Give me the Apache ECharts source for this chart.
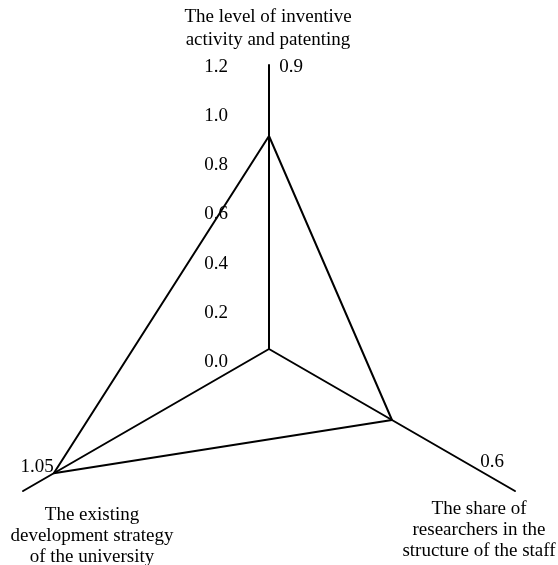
<!DOCTYPE html>
<html>
<head>
<meta charset="utf-8">
<script src="https://cdn.jsdelivr.net/npm/echarts@6/dist/echarts.min.js"></script>
<style>
  html, body { margin: 0; padding: 0; background: #fff; }
  #chart { width: 558px; height: 565px; }
</style>
</head>
<body>
<div id="chart"></div>
<script>
// indicators in ECharts order: top, bottom-left, bottom-right
var indicators = [
  'The level of inventive\nactivity and patenting',
  'The existing\ndevelopment strategy\nof the university',
  'The share of\nresearchers in the\nstructure of the staff'
]
var values = [0.9, 1.05, 0.6]
var axisMax = 1.2
var tickStep = 0.2

var font = "'Liberation Serif', 'Times New Roman', serif"

var myChart = echarts.init(document.getElementById('chart'))

// text positions (name block centre, value label centre) per indicator
var namePos = [[268, 29], [92, 536], [479, 530]]
var valuePos = [[291, 67], [37, 467], [492, 462]]

var graphics = []
indicators.forEach(function (name, i) {
  graphics.push({
    type: 'text',
    x: namePos[i][0],
    y: namePos[i][1],
    style: {
      text: name,
      fontSize: 19,
      fontFamily: font,
      fill: '#000',
      align: 'center',
      verticalAlign: 'middle',
      lineHeight: i === 0 ? 23 : 21
    }
  })
  graphics.push({
    type: 'text',
    x: valuePos[i][0],
    y: valuePos[i][1],
    style: {
      text: String(values[i]),
      fontSize: 19,
      fontFamily: font,
      fill: '#000',
      align: 'center',
      verticalAlign: 'middle'
    }
  })
})

myChart.setOption({
  animation: false,
  backgroundColor: '#fff',
  // scale for the tick labels next to the top axis
  grid: { left: 268, top: 67, height: 295, width: 1 },
  xAxis: { type: 'value', show: false },
  yAxis: {
    type: 'value',
    min: 0,
    max: axisMax,
    interval: tickStep,
    axisLine: { show: false },
    axisTick: { show: false },
    splitLine: { show: false },
    axisLabel: {
      margin: 40,
      fontSize: 19,
      fontFamily: font,
      color: '#000',
      formatter: function (v) { return v.toFixed(1) }
    }
  },
  radar: {
    center: [269, 349],
    radius: 284,
    startAngle: 90,
    shape: 'polygon',
    indicator: indicators.map(function (n) { return { name: n, max: axisMax, min: 0 } }),
    axisName: { show: false },
    axisLine: { lineStyle: { color: '#000', width: 2 } },
    splitLine: { show: false },
    splitArea: { show: false },
    axisTick: { show: false },
    axisLabel: { show: false }
  },
  series: [{
    type: 'radar',
    symbol: 'none',
    lineStyle: { color: '#000', width: 2 },
    data: [{ value: values }]
  }],
  graphic: graphics
})
</script>
</body>
</html>
